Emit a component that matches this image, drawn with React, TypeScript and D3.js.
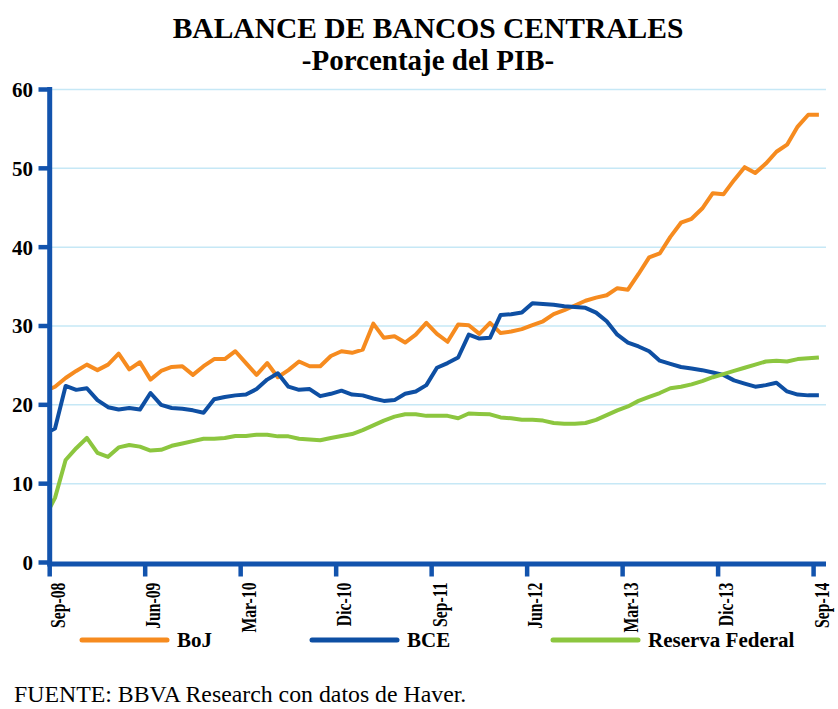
import React from "react";
import * as d3 from "d3";

// Monthly data, Aug-08 (clipped at the axis) then Sep-08 .. Sep-14
const startMonth = new Date(2008, 7, 1); // Aug-08
const boj = [
  21.7,
  22.3, 23.4, 24.3, 25.1, 24.4, 25.1, 26.5, 24.5, 25.4, 23.2, 24.3, 24.8,
  24.9, 23.8, 24.9, 25.8, 25.8, 26.8, 25.3, 23.8, 25.3, 23.5, 24.4, 25.5,
  24.9, 24.9, 26.2, 26.8, 26.6, 27.0, 30.3, 28.5, 28.7, 27.9, 28.9, 30.4,
  29.0, 28.0, 30.2, 30.1, 29.0, 30.4, 29.1, 29.3, 29.6, 30.1, 30.6, 31.5,
  32.0, 32.6, 33.2, 33.6, 33.9, 34.8, 34.6, 36.6, 38.7, 39.2, 41.3, 43.1,
  43.6, 44.9, 46.85, 46.7, 48.5, 50.15, 49.4, 50.6, 52.1, 53.0, 55.3, 56.8, 56.8,
];
const bce = [
  16.3,
  17.0, 22.4, 21.9, 22.1, 20.6, 19.7, 19.4, 19.6, 19.4, 21.5, 20.0, 19.6,
  19.5, 19.3, 19.0, 20.7, 21.0, 21.2, 21.3, 22.0, 23.2, 24.0, 22.3, 21.9,
  22.0, 21.1, 21.4, 21.8, 21.3, 21.2, 20.8, 20.5, 20.6, 21.4, 21.7, 22.5,
  24.7, 25.3, 26.0, 28.9, 28.4, 28.5, 31.4, 31.5, 31.7, 32.9, 32.8, 32.7,
  32.5, 32.4, 32.3, 31.7, 30.6, 28.9, 27.9, 27.4, 26.8, 25.6, 25.2, 24.8,
  24.6, 24.4, 24.1, 23.8, 23.1, 22.7, 22.3, 22.5, 22.8, 21.7, 21.3, 21.2, 21.2,
];
const fed = [
  5.6,
  8.2, 13.0, 14.5, 15.8, 13.9, 13.4, 14.6, 14.9, 14.7, 14.2, 14.3, 14.8,
  15.1, 15.4, 15.7, 15.7, 15.8, 16.05, 16.05, 16.2, 16.2, 16.0, 16.0, 15.7,
  15.6, 15.5, 15.8, 16.05, 16.3, 16.8, 17.4, 18.0, 18.5, 18.8, 18.8, 18.6,
  18.6, 18.6, 18.3, 18.9, 18.85, 18.8, 18.4, 18.3, 18.1, 18.1, 18.0, 17.7,
  17.6, 17.6, 17.7, 18.1, 18.7, 19.3, 19.8, 20.5, 21.0, 21.5, 22.1, 22.3,
  22.6, 23.0, 23.5, 23.9, 24.3, 24.7, 25.1, 25.5, 25.6, 25.5, 25.8, 25.9, 26.0,
];
const tickLabels = ["Sep-08", "Jun-09", "Mar-10", "Dic-10", "Sep-11", "Jun-12", "Mar-13", "Dic-13", "Sep-14"];
const tickDates = [
  new Date(2008, 8, 1), new Date(2009, 5, 1), new Date(2010, 2, 1), new Date(2010, 11, 1),
  new Date(2011, 8, 1), new Date(2012, 5, 1), new Date(2013, 2, 1), new Date(2013, 11, 1), new Date(2014, 8, 1),
];
const yTicks = [0, 10, 20, 30, 40, 50, 60];
const seriesNames = ["BoJ", "BCE", "Reserva Federal"];
const seriesData = [boj, bce, fed];
const seriesColors = ["#f68b1f", "#0e4fa3", "#8cc63f"];

const AXIS = "#1253ad";
const GRID = "#c6e8f6";
const FONT = "'Liberation Serif', 'Times New Roman', serif";

export default function App() {
  const W = 838, H = 709;
  const x0 = 49.7, x1 = 824.2;
  const axisEnd = 826;
  const y0 = 562.5, y1 = 89.5;

  const firstCat = new Date(2008, 8, 1); // Sep-08 boundary
  const lastBoundary = new Date(2014, 9, 1); // Oct-14 boundary
  const nCats = d3.timeMonth.count(firstCat, lastBoundary);
  const x = d3.scaleLinear().domain([0, nCats]).range([x0, x1]);
  const y = d3.scaleLinear().domain([0, 60]).range([y0, y1]);

  const monthPos = (i: number) => d3.timeMonth.count(firstCat, d3.timeMonth.offset(startMonth, i)) + 0.5;

  const line = d3
    .line<number>()
    .x((_, i) => x(monthPos(i)))
    .y((d) => y(d));

  const tickPos = tickDates.map((d) => x(d3.timeMonth.count(firstCat, d)));

  const legendX = [82, 312, 553];

  return (
    <svg width={W} height={H} style={{ position: "absolute", left: 0, top: 0, background: "#fff" }} fontFamily={FONT}>
      <defs>
        <clipPath id="plot">
          <rect x={x0} y={0} width={axisEnd - x0} height={H} />
        </clipPath>
      </defs>
      <rect width={W} height={H} fill="#fff" />
      <text x={428} y={38} textAnchor="middle" fontWeight="bold" fontSize={29.5}>
        BALANCE DE BANCOS CENTRALES
      </text>
      <text x={428} y={70} textAnchor="middle" fontWeight="bold" fontSize={29}>
        -Porcentaje del PIB-
      </text>

      {/* gridlines */}
      {yTicks.filter((t) => t > 0).map((t) => (
        <line key={t} x1={x0} x2={axisEnd} y1={y(t)} y2={y(t)} stroke={GRID} strokeWidth={1.5} />
      ))}

      {/* series */}
      <g clipPath="url(#plot)">
        {seriesData.map((s, i) => (
          <path key={i} d={line(s) || ""} fill="none" stroke={seriesColors[i]} strokeWidth={4} strokeLinejoin="round" />
        ))}
      </g>

      {/* y axis */}
      <line x1={x0} x2={x0} y1={y(60) - 2.5} y2={y0 + 2} stroke={AXIS} strokeWidth={5} />
      {yTicks.map((t) => (
        <g key={t}>
          <line x1={38.5} x2={x0} y1={y(t)} y2={y(t)} stroke={AXIS} strokeWidth={4.5} />
          <text x={33} y={y(t)} dy="0.35em" textAnchor="end" fontWeight="bold" fontSize={21}>
            {t}
          </text>
        </g>
      ))}

      {/* x axis */}
      <line x1={x0 - 2.5} x2={axisEnd} y1={y0 + 1.5} y2={y0 + 1.5} stroke={AXIS} strokeWidth={5} />
      {tickPos.map((p, i) => (
        <g key={i}>
          <line x1={p} x2={p} y1={y0} y2={y0 + 14} stroke={AXIS} strokeWidth={4.5} />
          <text
            transform={`translate(${p + 15},${y0 + 20}) rotate(-90) scale(0.75,1)`}
            textAnchor="end"
            fontWeight="bold"
            fontSize={21}
          >
            {tickLabels[i]}
          </text>
        </g>
      ))}

      {/* legend */}
      {seriesNames.map((n, i) => (
        <g key={n}>
          <line x1={legendX[i]} x2={legendX[i] + 85} y1={640} y2={640} stroke={seriesColors[i]} strokeWidth={5} strokeLinecap="round" />
          <text x={legendX[i] + 95} y={647} fontWeight="bold" fontSize={21}>
            {n}
          </text>
        </g>
      ))}

      <text x={14} y={702} fontSize={23.8}>
        FUENTE: BBVA Research con datos de Haver.
      </text>
    </svg>
  );
}
